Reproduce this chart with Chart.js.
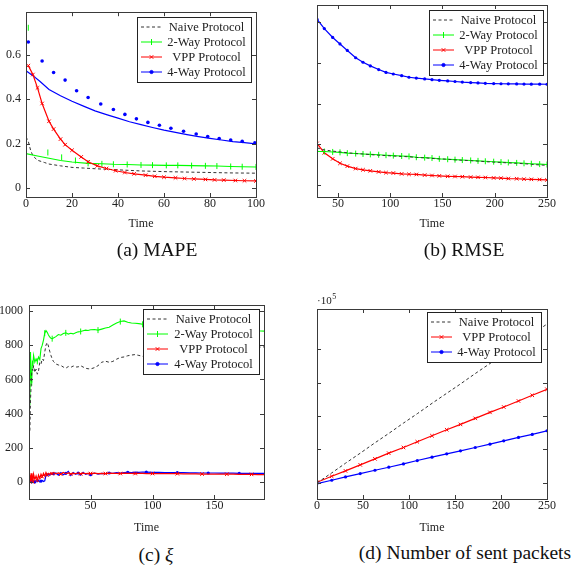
<!DOCTYPE html>
<html>
<head>
<meta charset="utf-8">
<script src="https://cdn.jsdelivr.net/npm/chart.js@4.4.1/dist/chart.umd.min.js"></script>
<style>
  body { margin: 0; background: #fff; width: 572px; height: 569px; overflow: hidden; position: relative; font-family: "Liberation Serif", serif; }
  canvas { position: absolute; }
  .cap { position: absolute; font-size: 19.5px; line-height: 20px; white-space: nowrap; transform: translateX(-50%); color: #111; }
</style>
</head>
<body>
<canvas id="mape" width="286" height="240" style="left:0;top:0"></canvas>
<canvas id="rmse" width="286" height="240" style="left:286px;top:0"></canvas>
<canvas id="xi" width="286" height="250" style="left:0;top:290px"></canvas>
<canvas id="packets" width="286" height="250" style="left:286px;top:290px"></canvas>
<div class="cap" style="left:157px;top:240px">(a) MAPE</div>
<div class="cap" style="left:464px;top:240px">(b) RMSE</div>
<div class="cap" style="left:156px;top:545px">(c) <i>ξ</i></div>
<div class="cap" style="left:465px;top:543px">(d) Number of sent packets</div>
<script>
// (a) MAPE
const mapeNaiveT = [0, 1, 2, 3, 5, 8, 10, 15, 20, 25, 30, 40, 50, 60, 70, 80, 90, 100];
const mapeNaive = [0.23, 0.21, 0.17, 0.145, 0.125, 0.115, 0.108, 0.1, 0.093, 0.09, 0.087, 0.082, 0.077, 0.074, 0.072, 0.07, 0.068, 0.067];
const mapeTwoWayT = [0, 5, 10, 15, 20, 27, 33, 38, 44, 50, 55, 61, 66, 72, 78, 83, 89, 94, 100];
const mapeTwoWay = [0.155, 0.144, 0.134, 0.124, 0.117, 0.111, 0.109, 0.107, 0.106, 0.104, 0.103, 0.102, 0.102, 0.101, 0.1, 0.099, 0.097, 0.096, 0.095];
const mapeTwoWayMarkT = [1, 9.5, 15.5, 21.5];
const mapeTwoWayMark = [0.72, 0.16, 0.138, 0.124];
const mapeVppT = [1, 3, 5, 7, 10, 12, 15, 17, 20, 24, 27, 31, 35, 39, 43, 47, 52, 56, 60, 65, 69, 73, 78, 82, 86, 91, 95, 100];
const mapeVpp = [0.55, 0.51, 0.45, 0.38, 0.3, 0.265, 0.22, 0.195, 0.17, 0.14, 0.118, 0.1, 0.088, 0.078, 0.07, 0.064, 0.058, 0.053, 0.049, 0.046, 0.043, 0.041, 0.039, 0.037, 0.036, 0.034, 0.033, 0.032];
const mapeFourWayT = [0, 3, 6, 10, 15, 20, 25, 30, 35, 40, 45, 50, 55, 60, 65, 70, 75, 80, 85, 90, 95, 100];
const mapeFourWay = [0.527, 0.505, 0.48, 0.443, 0.415, 0.39, 0.368, 0.347, 0.33, 0.314, 0.298, 0.285, 0.272, 0.26, 0.25, 0.24, 0.231, 0.223, 0.216, 0.209, 0.204, 0.199];
const mapeFourWayMarkT = [1, 7, 12, 17, 22, 27, 32.5, 38, 43, 48, 53, 58, 63, 68.5, 74, 79, 84, 89, 94, 99.5];
const mapeFourWayMark = [0.656, 0.571, 0.519, 0.485, 0.437, 0.407, 0.378, 0.353, 0.331, 0.311, 0.295, 0.282, 0.269, 0.255, 0.243, 0.232, 0.223, 0.216, 0.21, 0.203];
const mapeXTicks = [0, 20, 40, 60, 80, 100];
const mapeYTicks = [0, 0.2, 0.4, 0.6];

// (b) RMSE
const rmseT = [30, 37, 45, 52, 59, 67, 74, 81, 89, 96, 103, 111, 118, 125, 133, 140, 147, 155, 162, 169, 177, 184, 191, 199, 206, 213, 221, 228, 235, 243, 250];
const rmseNaive = [1.91, 1.86, 1.83, 1.81, 1.79, 1.77, 1.76, 1.745, 1.73, 1.72, 1.71, 1.7, 1.69, 1.675, 1.665, 1.65, 1.64, 1.63, 1.615, 1.605, 1.595, 1.585, 1.57, 1.56, 1.55, 1.54, 1.53, 1.52, 1.505, 1.49, 1.48];
const rmseTwoWayT = [30, 30.5, 37, 45, 52, 59, 67, 74, 81, 89, 96, 103, 111, 118, 125, 133, 140, 147, 155, 162, 169, 177, 184, 191, 199, 206, 213, 221, 228, 235, 243, 250];
const rmseTwoWay = [1.94, 1.82, 1.82, 1.81, 1.8, 1.78, 1.77, 1.76, 1.75, 1.74, 1.73, 1.72, 1.71, 1.7, 1.68, 1.67, 1.66, 1.64, 1.63, 1.62, 1.61, 1.6, 1.59, 1.58, 1.57, 1.56, 1.55, 1.54, 1.53, 1.52, 1.51, 1.5];
const rmseVpp = [2.02, 1.79, 1.64, 1.53, 1.46, 1.4, 1.37, 1.345, 1.32, 1.3, 1.29, 1.27, 1.26, 1.255, 1.24, 1.23, 1.22, 1.21, 1.205, 1.2, 1.19, 1.185, 1.18, 1.17, 1.165, 1.155, 1.15, 1.14, 1.135, 1.13, 1.12];
const rmseFourWay = [5.08, 4.85, 4.63, 4.47, 4.31, 4.13, 4.02, 3.93, 3.84, 3.77, 3.73, 3.69, 3.65, 3.63, 3.61, 3.59, 3.575, 3.56, 3.545, 3.53, 3.52, 3.51, 3.5, 3.495, 3.49, 3.487, 3.485, 3.483, 3.48, 3.48, 3.478];
const rmseXTicks = [50, 100, 150, 200, 250];
const rmseYTicks = [1, 2, 3, 4, 5];

// (c) xi
const xiT = [1, 1.5, 2, 2.5, 3, 3.5, 4, 5, 6, 7, 8, 9, 10, 11, 12, 13, 14, 15, 16, 17, 18, 19, 20, 22, 24, 26, 28, 30, 32, 34, 36, 38, 40, 42, 44, 46, 48, 50, 53, 56, 59, 62, 65, 68, 71, 74, 77, 80, 83, 86, 89, 92, 95, 100, 105, 110, 115, 120, 125, 130, 135, 140, 145, 150, 155, 160, 165, 170, 175, 180, 185, 190];
const xiNaive = [300, 480, 560, 640, 660, 650, 680, 640, 660, 630, 650, 700, 690, 720, 710, 760, 800, 815, 795, 765, 740, 720, 705, 690, 684, 681, 672, 665, 675, 670, 678, 672, 673, 680, 672, 665, 662, 661, 668, 680, 700, 706, 700, 705, 718, 728, 731, 738, 742, 745, 740, 735, 745, 750, 752, 755, 757, 760, 762, 765, 767, 770, 772, 774, 776, 778, 780, 782, 784, 786, 788, 790];
const xiTwoWay = [450, 760, 600, 580, 700, 690, 740, 700, 720, 705, 730, 715, 780, 800, 830, 870, 885, 875, 860, 848, 840, 838, 842, 850, 862, 858, 868, 872, 865, 870, 866, 872, 878, 880, 884, 888, 886, 890, 892, 888, 894, 900, 905, 918, 930, 938, 942, 934, 930, 928, 926, 922, 920, 918, 914, 910, 908, 905, 902, 900, 898, 897, 896, 895, 893, 892, 890, 889, 888, 887, 884, 882];
const xiVpp = [40, 5, 50, 10, 30, 0, 45, 15, 35, 10, 40, 20, 45, 30, 50, 35, 55, 40, 50, 45, 52, 48, 55, 47, 52, 45, 55, 48, 53, 46, 50, 48, 52, 47, 51, 48, 50, 49, 51, 48, 50, 49, 51, 50, 50, 49, 51, 50, 50, 49, 50, 50, 49, 49, 49, 48, 48, 48, 47, 47, 47, 46, 46, 46, 45, 45, 45, 44, 44, 44, 43, 43];
const xiFourWay = [5, 0, 8, 2, 10, 3, 6, 0, 8, 2, 10, 0, 5, 8, 2, 6, 38, 42, 45, 40, 50, 44, 48, 52, 40, 55, 42, 50, 62, 38, 55, 45, 52, 40, 56, 44, 50, 42, 52, 46, 50, 48, 52, 50, 54, 52, 55, 56, 55, 57, 56, 58, 57, 56, 56, 55, 55, 54, 54, 53, 53, 52, 52, 52, 51, 51, 51, 50, 50, 50, 50, 50];
const xiXTicks = [50, 100, 150];
const xiYTicks = [0, 200, 400, 600, 800, 1000];

// (d) number of sent packets (x 10^5)
const pktT = [0, 16, 31, 47, 63, 78, 94, 109, 125, 141, 156, 172, 188, 203, 219, 234, 250];
const pktNaive = [0, 0.3, 0.59, 0.89, 1.2, 1.48, 1.79, 2.07, 2.38, 2.68, 2.96, 3.27, 3.57, 3.86, 4.16, 4.45, 4.75];
const pktVpp = [0.02, 0.2, 0.36, 0.54, 0.72, 0.89, 1.06, 1.23, 1.41, 1.59, 1.75, 1.93, 2.11, 2.27, 2.45, 2.62, 2.8];
const pktFourWay = [-0.02, 0.08, 0.18, 0.28, 0.38, 0.47, 0.57, 0.67, 0.77, 0.87, 0.96, 1.06, 1.16, 1.26, 1.36, 1.45, 1.56];
const pktXTicks = [0, 50, 100, 150, 200, 250];
const pktYTicks = [0, 1, 2, 3, 4];

const SERIF = '"Liberation Serif", "Times New Roman", serif';
const INK = '#222';
const GREEN = '#00ff00', RED = '#ff0000', BLUE = '#0000ff', NAIVE = '#333';

const pts = (xs, ys) => xs.map((x, i) => ({ x, y: ys[i] }));

function naiveSet(xs, ys) {
  return { data: pts(xs, ys), borderColor: NAIVE, borderWidth: 1, borderDash: [3, 2.5], pointRadius: 0 };
}
function twoWaySet(xs, ys, radius) {
  return { data: pts(xs, ys), borderColor: GREEN, backgroundColor: GREEN, borderWidth: 1.1,
    pointStyle: 'line', rotation: 90, pointRadius: radius, pointBorderWidth: 1 };
}
function vppSet(xs, ys, radius) {
  return { data: pts(xs, ys), borderColor: RED, backgroundColor: RED, borderWidth: 1.2,
    pointStyle: 'crossRot', pointRadius: radius, pointBorderWidth: 1 };
}
function fourWaySet(xs, ys, radius) {
  return { data: pts(xs, ys), borderColor: BLUE, backgroundColor: BLUE, borderWidth: 1.2,
    pointStyle: 'circle', pointRadius: radius, pointBorderWidth: 0 };
}
function marksOnly(ds) {
  ds.showLine = false;
  return ds;
}

const LEG_NAIVE = { label: 'Naive Protocol', color: NAIVE, dash: [3, 2.5] };
const LEG_TWO = { label: '2-Way Protocol', color: GREEN, point: 'line', rot: 90, r: 3 };
const LEG_VPP = { label: 'VPP Protocol', color: RED, point: 'crossRot', r: 2.5 };
const LEG_FOUR = { label: '4-Way Protocol', color: BLUE, point: 'circle', r: 1.6 };

// frame with inward ticks on all four sides
const frame = {
  id: 'frame',
  afterDatasetsDraw(chart) {
    const { ctx, chartArea: a, scales } = chart;
    ctx.save();
    ctx.strokeStyle = '#3a3a3a';
    ctx.lineWidth = 1;
    ctx.beginPath();
    scales.x.ticks.forEach(t => {
      const x = Math.round(scales.x.getPixelForValue(t.value)) + 0.5;
      ctx.moveTo(x, a.bottom); ctx.lineTo(x, a.bottom - 4);
      ctx.moveTo(x, a.top); ctx.lineTo(x, a.top + 4);
    });
    scales.y.ticks.forEach(t => {
      const y = Math.round(scales.y.getPixelForValue(t.value)) + 0.5;
      ctx.moveTo(a.left, y); ctx.lineTo(a.left + 4, y);
      ctx.moveTo(a.right, y); ctx.lineTo(a.right - 4, y);
    });
    ctx.stroke();
    ctx.strokeRect(Math.round(a.left) + 0.5, Math.round(a.top) + 0.5, Math.round(a.right - a.left), Math.round(a.bottom - a.top));
    ctx.restore();
  }
};

// pgfplots-like boxed legend with centred text
const boxLegend = {
  id: 'boxLegend',
  afterDraw(chart, args, opts) {
    if (!opts.items) return;
    const { ctx, chartArea: a } = chart;
    const w = opts.width, rowH = 15;
    const h = opts.items.length * rowH + 5;
    const x0 = Math.round(a.right - opts.right - w), y0 = Math.round(a.top + opts.top);
    ctx.save();
    ctx.fillStyle = '#fff';
    ctx.fillRect(x0, y0, w, h);
    ctx.strokeStyle = '#222';
    ctx.lineWidth = 1;
    ctx.strokeRect(x0 + 0.5, y0 + 0.5, w, h);
    opts.items.forEach((it, i) => {
      const y = y0 + 10 + i * rowH;
      ctx.strokeStyle = it.color;
      ctx.lineWidth = 1;
      ctx.setLineDash(it.dash || []);
      ctx.beginPath();
      ctx.moveTo(x0 + 4, y); ctx.lineTo(x0 + 25, y);
      ctx.stroke();
      ctx.setLineDash([]);
      if (it.point) {
        ctx.fillStyle = it.color;
        Chart.helpers.drawPoint(ctx, { pointStyle: it.point, rotation: it.rot || 0, radius: it.r, borderWidth: 1 }, x0 + 14.5, y);
      }
      ctx.fillStyle = INK;
      ctx.font = '12.5px ' + SERIF;
      ctx.textAlign = 'center';
      ctx.textBaseline = 'middle';
      ctx.fillText(it.label, (x0 + 25 + x0 + w) / 2, y + 0.5);
    });
    ctx.restore();
  }
};

// "·10^5" exponent label above the y axis
const exponent = {
  id: 'exponent',
  afterDraw(chart, args, opts) {
    if (!opts.text) return;
    const { ctx, chartArea: a } = chart;
    ctx.save();
    ctx.fillStyle = INK;
    ctx.textBaseline = 'alphabetic';
    ctx.font = '11px ' + SERIF;
    ctx.fillText(opts.text, a.left, a.top - 5);
    const w = ctx.measureText(opts.text).width;
    ctx.font = '8px ' + SERIF;
    ctx.fillText(opts.sup, a.left + w + 0.5, a.top - 10);
    ctx.restore();
  }
};

function makeChart(id, datasets, o) {
  const tickFont = { family: SERIF, size: 12 };
  return new Chart(document.getElementById(id), {
    type: 'line',
    data: { datasets },
    plugins: [frame, boxLegend, exponent],
    options: {
      responsive: false,
      animation: false,
      events: [],
      layout: { padding: { left: 0, top: o.top, right: o.right, bottom: 0 } },
      elements: { line: { tension: 0 } },
      plugins: {
        legend: { display: false },
        tooltip: { enabled: false },
        boxLegend: { items: o.legend, width: o.legendW, right: o.legendRight, top: o.legendTop },
        exponent: o.exponent || {}
      },
      scales: {
        x: {
          type: 'linear', min: o.xMin, max: o.xMax,
          grid: { display: false, drawTicks: false }, border: { display: false },
          afterBuildTicks: s => { s.ticks = o.xTicks.map(v => ({ value: v })); },
          afterFit: s => { s.height = o.xHeight; },
          ticks: { font: tickFont, color: INK, padding: 0, maxRotation: 0, autoSkip: false, callback: v => String(v) },
          title: { display: true, text: 'Time', font: { family: SERIF, size: 12 }, color: INK, padding: { top: 0, bottom: o.titlePad } }
        },
        y: {
          type: 'linear', min: o.yMin, max: o.yMax,
          grid: { display: false, drawTicks: false }, border: { display: false },
          afterBuildTicks: s => { s.ticks = o.yTicks.map(v => ({ value: v })); },
          afterFit: s => { s.width = o.yWidth; },
          ticks: { display: o.yLabels, font: tickFont, color: INK, padding: o.yPad || 4, autoSkip: false, callback: v => String(v) }
        }
      }
    }
  });
}

makeChart('mape', [
  vppSet(mapeVppT, mapeVpp, 2.5),
  twoWaySet(mapeTwoWayT, mapeTwoWay, ctx => (ctx.parsed && ctx.parsed.x > 25 ? 3 : 0)),
  marksOnly(twoWaySet(mapeTwoWayMarkT, mapeTwoWayMark, 3)),
  naiveSet(mapeNaiveT, mapeNaive),
  fourWaySet(mapeFourWayT, mapeFourWay, 0),
  marksOnly(fourWaySet(mapeFourWayMarkT, mapeFourWayMark, 1.8))
], {
  xMin: 0, xMax: 100, yMin: -0.04, yMax: 0.79, xTicks: mapeXTicks, yTicks: mapeYTicks, yLabels: true, yPad: 5,
  top: 5, right: 30, yWidth: 26, xHeight: 43, titlePad: 9,
  legend: [LEG_NAIVE, LEG_TWO, LEG_VPP, LEG_FOUR], legendW: 114, legendRight: 5, legendTop: 5
});

makeChart('rmse', [
  naiveSet(rmseT, rmseNaive),
  twoWaySet(rmseTwoWayT, rmseTwoWay, 3),
  vppSet(rmseT, rmseVpp, 2.5),
  fourWaySet(rmseT, rmseFourWay, 1.6)
], {
  xMin: 30, xMax: 250, yMin: 0.7, yMax: 5.43, xTicks: rmseXTicks, yTicks: rmseYTicks, yLabels: false,
  top: 5, right: 25, yWidth: 31, xHeight: 43, titlePad: 9,
  legend: [LEG_NAIVE, LEG_TWO, LEG_VPP, LEG_FOUR], legendW: 114, legendRight: 4, legendTop: 5
});

makeChart('xi', [
  naiveSet(xiT, xiNaive),
  twoWaySet(xiT, xiTwoWay, ctx => (ctx.dataIndex % 6 === 3 ? 3 : 0)),
  vppSet(xiT, xiVpp, ctx => (ctx.dataIndex % 4 === 1 ? 2.5 : 0)),
  fourWaySet(xiT, xiFourWay, ctx => (ctx.dataIndex % 5 === 2 ? 1.6 : 0))
], {
  xMin: 0.3, xMax: 190, yMin: -100, yMax: 1035, xTicks: xiXTicks, yTicks: xiYTicks, yLabels: true, yPad: 6,
  top: 15, right: 22, yWidth: 29, xHeight: 41, titlePad: 5,
  legend: [LEG_NAIVE, LEG_TWO, LEG_VPP, LEG_FOUR], legendW: 116, legendRight: 5, legendTop: 4
});

makeChart('packets', [
  naiveSet(pktT, pktNaive),
  vppSet(pktT, pktVpp, 2.5),
  fourWaySet(pktT, pktFourWay, 1.6)
], {
  xMin: 0, xMax: 250, yMin: -0.48, yMax: 5.2, xTicks: pktXTicks, yTicks: pktYTicks, yLabels: false,
  top: 19, right: 25, yWidth: 31, xHeight: 41, titlePad: 5,
  legend: [LEG_NAIVE, LEG_VPP, LEG_FOUR], legendW: 114, legendRight: 6, legendTop: 3,
  exponent: { text: '·10', sup: '5' }
});
</script>
</body>
</html>
